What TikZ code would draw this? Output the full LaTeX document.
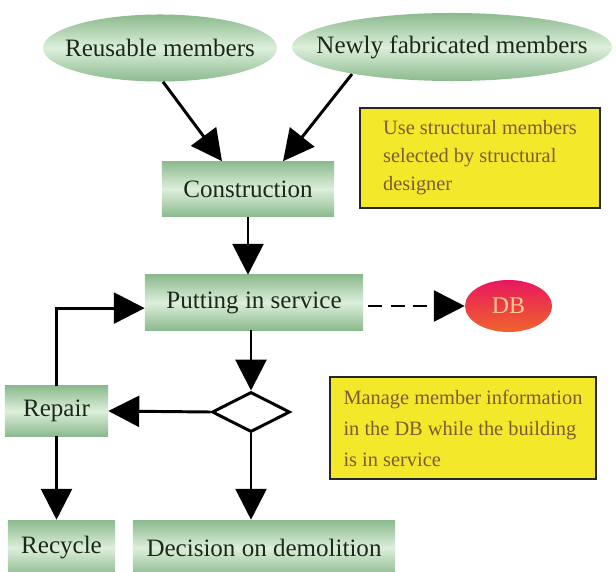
\documentclass[tikz,border=0pt]{standalone}
\usepackage{fontspec}
\setmainfont{Liberation Serif}
\usetikzlibrary{shapes.geometric, arrows.meta}

\definecolor{boxdark}{HTML}{8CBA8F}
\definecolor{boxlight}{HTML}{DCEFDA}
\definecolor{textgreen}{HTML}{1C281C}
\definecolor{notefill}{HTML}{F4E82A}
\definecolor{notetext}{HTML}{7A5C36}
\definecolor{dbtop}{HTML}{E8185E}
\definecolor{dbbottom}{HTML}{F0642C}
\definecolor{dbtext}{HTML}{F8CC8C}

\tikzset{
    stage/.style={top color=boxdark, bottom color=boxdark, middle color=boxlight,
        text=textgreen, font=\fontsize{17.8}{21}\selectfont, inner sep=0pt},
    member/.style={ellipse, stage, inner xsep=-0.6cm},
    dbnode/.style={ellipse, top color=dbtop, bottom color=dbbottom, text=dbtext,
        font=\fontsize{17}{20}\selectfont, inner sep=0pt},
    decide/.style={diamond, draw, line width=2.1pt, fill=white, inner sep=0pt},
    note/.style={draw=black!85, line width=1.5pt, fill=notefill, text=notetext,
        align=left, inner sep=0pt},
    flow/.style={line width=2.1pt, -{Triangle[length=22pt, width=22pt]}},
}

\begin{document}
\begin{tikzpicture}[x=0.025cm, y=-0.025cm]
    \useasboundingbox (0, 0) rectangle (616, 571);
    \fill[white] (0, 0) rectangle (616, 571);

    \node[member, minimum width=5.85cm, minimum height=1.675cm] (reuse) at (160, 48) {Reusable members};
    \node[member, minimum width=8cm, minimum height=1.7cm] (newly) at (452, 47) {Newly fabricated members};
    \node[stage, minimum width=4.3cm, minimum height=1.375cm] (cons) at (248, 189) {Construction};
    \node[note, minimum width=6cm, minimum height=2.5cm, font=\fontsize{14.5}{20}\selectfont] (use) at (480, 158)
        {Use structural members\\selected by structural\\designer};
    \node[stage, minimum width=5.45cm, minimum height=1.375cm] (service) at (254, 302.5) {Putting in service};
    \node[dbnode, minimum width=2.175cm, minimum height=1.3cm] (db) at (508.5, 306) {DB};
    \node[decide, minimum width=1.95cm, minimum height=1cm] (check) at (251, 412) {};
    \node[stage, minimum width=2.575cm, minimum height=1.25cm] (repair) at (56.5, 411) {Repair};
    \node[note, minimum width=6.65cm, minimum height=2.55cm, font=\fontsize{14.5}{22}\selectfont] (manage) at (463, 428)
        {Manage member information\\in the DB while the building\\is in service};
    \node[stage, minimum width=2.675cm, minimum height=1.4cm] (recycle) at (61.5, 548) {Recycle};
    \node[stage, minimum width=6.55cm, minimum height=1.4cm] (demolish) at (264, 548) {Decision on demolition};

    \draw[flow] ([xshift=0.075cm]reuse.south) -- ([xshift=-0.65cm]cons.north);
    \draw[flow] ([shift={(-2.5cm,0.18cm)}]newly.south) -- ([xshift=0.875cm]cons.north);
    \draw[flow] (cons.south) -- (cons.south |- service.north);
    \draw[flow] (check.north |- service.south) -- (check.north);
    \draw[flow] (check.west) -- (repair.east);
    \draw[flow] (check.south) -- (check.south |- demolish.north);
    \draw[flow] (repair.north) |- ([yshift=-0.14cm]service.west);
    \draw[flow] (repair.south) -- (repair.south |- recycle.north);
    \draw[flow, dash pattern=on 10pt off 6pt, shorten <=0.125cm] (service.east |- db.west) -- (db.west);
\end{tikzpicture}
\end{document}
